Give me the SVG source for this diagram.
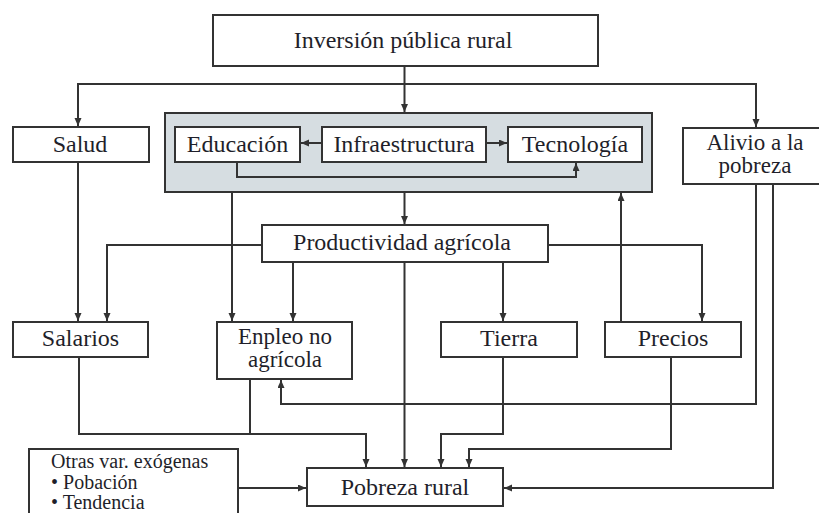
<svg xmlns="http://www.w3.org/2000/svg" width="819" height="513" viewBox="0 0 819 513">
<style>
.box{fill:#fff;stroke:#333;stroke-width:2}
.gray{fill:#d6dde1;stroke:#333;stroke-width:2}
.t{font-family:"Liberation Serif",serif;font-size:24px;fill:#1f1f2a;text-anchor:middle}
.t2{font-family:"Liberation Serif",serif;font-size:23px;fill:#1f1f2a;text-anchor:middle}
.s{font-family:"Liberation Serif",serif;font-size:20px;fill:#1f1f2a}
.c{fill:none;stroke:#333;stroke-width:2}
</style>
<defs>
<marker id="ah" markerUnits="userSpaceOnUse" markerWidth="9" markerHeight="8" refX="8" refY="3.5" orient="auto"><path d="M0,0 L8,3.5 L0,7 z" fill="#333"/></marker>
</defs>
<rect width="819" height="513" fill="#fff"/>
<g id="inversion"><rect class="box" x="213" y="15" width="385" height="51"/><text class="t" x="403" y="48">Inversión pública rural</text></g>
<g id="gray-group"><rect class="gray" x="165" y="113" width="487" height="79"/></g>
<g id="salud"><rect class="box" x="13" y="127" width="136" height="35"/><text class="t" x="80" y="152">Salud</text></g>
<g id="educacion"><rect class="box" x="175" y="127" width="125" height="35"/><text class="t" x="237.5" y="152">Educación</text></g>
<g id="infraestructura"><rect class="box" x="322" y="127" width="164" height="35"/><text class="t" x="404" y="152">Infraestructura</text></g>
<g id="tecnologia"><rect class="box" x="508" y="127" width="134" height="35"/><text class="t" x="575" y="152">Tecnología</text></g>
<g id="alivio"><rect class="box" x="683" y="128" width="150" height="56"/><text class="t2" x="755" y="150">Alivio a la</text><text class="t2" x="755" y="173">pobreza</text></g>
<g id="productividad"><rect class="box" x="262" y="225" width="286" height="37"/><text class="t" x="402" y="250">Productividad agrícola</text></g>
<g id="salarios"><rect class="box" x="13" y="322" width="135" height="35"/><text class="t" x="80.5" y="346">Salarios</text></g>
<g id="empleo"><rect class="box" x="217" y="322" width="135" height="57"/><text class="t2" x="285" y="344">Enpleo no</text><text class="t2" x="285" y="367">agrícola</text></g>
<g id="tierra"><rect class="box" x="441" y="322" width="136" height="35"/><text class="t" x="509" y="346">Tierra</text></g>
<g id="precios"><rect class="box" x="605" y="322" width="136" height="35"/><text class="t" x="673" y="346">Precios</text></g>
<g id="pobreza"><rect class="box" x="307" y="468" width="196" height="38"/><text class="t" x="405" y="495">Pobreza rural</text></g>
<g id="otras"><rect class="box" x="29" y="449" width="209" height="80"/><text class="s" x="51" y="468">Otras var. exógenas</text><text class="s" x="51" y="489">• Pobación</text><text class="s" x="51" y="509">• Tendencia</text></g>
<g id="connectors">
<path class="c" d="M404.5,66 V112" marker-end="url(#ah)"/>
<path class="c" d="M404.5,84 H78 V126" marker-end="url(#ah)"/>
<path class="c" d="M404.5,84 H756 V127" marker-end="url(#ah)"/>
<path class="c" d="M322,143 H301" marker-end="url(#ah)"/>
<path class="c" d="M486,143 H507" marker-end="url(#ah)"/>
<path class="c" d="M237,162 V177 H576 V163" marker-end="url(#ah)"/>
<path class="c" d="M78,162 V321" marker-end="url(#ah)"/>
<path class="c" d="M232,192 V321" marker-end="url(#ah)"/>
<path class="c" d="M404.5,192 V224" marker-end="url(#ah)"/>
<path class="c" d="M621,322 V193" marker-end="url(#ah)"/>
<path class="c" d="M262,245 H107 V321" marker-end="url(#ah)"/>
<path class="c" d="M548,245 H702 V321" marker-end="url(#ah)"/>
<path class="c" d="M293,262 V321" marker-end="url(#ah)"/>
<path class="c" d="M503,262 V321" marker-end="url(#ah)"/>
<path class="c" d="M404.5,262 V467" marker-end="url(#ah)"/>
<path class="c" d="M79,357 V434 H366 V467" marker-end="url(#ah)"/>
<path class="c" d="M250,379 V434"/>
<path class="c" d="M503,357 V434 H441 V467" marker-end="url(#ah)"/>
<path class="c" d="M671,357 V449 H469 V467" marker-end="url(#ah)"/>
<path class="c" d="M756,184 V404 H281 V380" marker-end="url(#ah)"/>
<path class="c" d="M773,184 V488 H504" marker-end="url(#ah)"/>
<path class="c" d="M238,488 H306" marker-end="url(#ah)"/>
</g>
</svg>
